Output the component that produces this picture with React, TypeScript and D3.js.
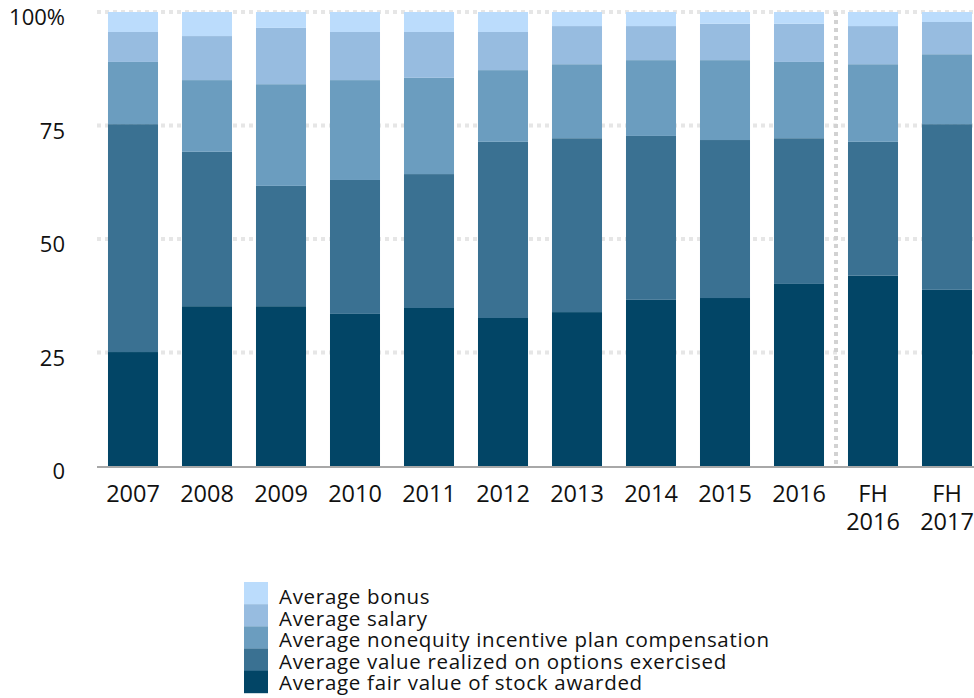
import React from "react";
import * as d3 from "d3";

const categories = ["2007","2008","2009","2010","2011","2012","2013","2014","2015","2016","FH 2016","FH 2017"];
const stockAwarded = [25.1, 35.2, 35.2, 33.5, 34.8, 32.6, 33.9, 36.6, 37.0, 40.1, 41.9, 38.8];
const optionsExercised = [50.2, 34.0, 26.5, 29.5, 29.5, 38.8, 38.3, 36.1, 34.8, 32.1, 29.5, 36.5];
const nonequityIncentive = [13.7, 15.8, 22.4, 22.0, 21.2, 15.8, 16.3, 16.7, 17.6, 16.8, 17.1, 15.4];
const salary = [6.6, 9.7, 12.4, 10.6, 10.1, 8.4, 8.4, 7.5, 8.0, 8.4, 8.4, 7.1];
const bonus = [4.4, 5.3, 3.5, 4.4, 4.4, 4.4, 3.1, 3.1, 2.6, 2.6, 3.1, 2.2];
const yTicks = [0, 25, 50, 75, 100];
const seriesNames = [
  "Average fair value of stock awarded",
  "Average value realized on options exercised",
  "Average nonequity incentive plan compensation",
  "Average salary",
  "Average bonus",
];
const seriesColors = ["#024566", "#3a7192", "#6b9dbf", "#97bce0", "#bbdcfc"];

const W = 974, H = 698;
const FONT = "'Open Sans', Lato, sans-serif";

export default function App() {
  const seriesVals = [stockAwarded, optionsExercised, nonequityIncentive, salary, bonus];
  const rows = categories.map((c, i) => {
    const total = seriesVals.reduce((s, a) => s + a[i], 0);
    const r: any = { cat: c };
    seriesVals.forEach((a, k) => { r["s" + k] = (a[i] / total) * 100; });
    return r;
  });
  const keys = seriesVals.map((_, k) => "s" + k);
  const stacked = d3.stack().keys(keys)(rows);

  const x = d3.scaleBand().domain(categories).range([96, 984]).paddingInner(0.324).paddingOuter(0.162);
  const y = d3.scaleLinear().domain([0, 100]).range([466, 12]);

  const dividerX = ((x("2016") as number) + x.bandwidth() + (x("FH 2016") as number)) / 2;

  return (
    <svg width={W} height={H} style={{ position: "absolute", left: 0, top: 0, background: "#fff" }} fontFamily={FONT}>
      {yTicks.filter(t => t > 0).map(t => (
        <line key={"g" + t} x1={97} x2={W} y1={y(t)} y2={y(t)} stroke="#e6e6e6" strokeWidth={4} strokeDasharray="4 4" />
      ))}
      {stacked.map((s, k) => (
        <g key={"s" + k} fill={seriesColors[k]}>
          {s.map((d: any, i: number) => (
            <rect key={i} x={x(d.data.cat)} width={x.bandwidth()} y={y(d[1])} height={y(d[0]) - y(d[1])} />
          ))}
        </g>
      ))}
      <line x1={dividerX} x2={dividerX} y1={12} y2={466} stroke="#d2d2d2" strokeWidth={4} strokeDasharray="4 4" />
      <line x1={97} x2={W} y1={467} y2={467} stroke="#a8a8a8" strokeWidth={2} />
      {yTicks.map(t => (
        <text key={"y" + t} x={65} y={y(t) + 13} textAnchor="end" fontSize={22} fill="#111">
          {t === 100 ? "100%" : String(t)}
        </text>
      ))}
      {categories.map(c => {
        const parts = c.split(" ");
        const cx = (x(c) as number) + x.bandwidth() / 2;
        return (
          <text key={"x" + c} x={cx} y={502} textAnchor="middle" fontSize={23.5} fill="#111">
            {parts.map((p, j) => (
              <tspan key={j} x={cx} dy={j === 0 ? 0 : 28}>{p}</tspan>
            ))}
          </text>
        );
      })}
      {seriesNames.slice().reverse().map((n, j) => {
        const k = seriesNames.length - 1 - j;
        const top = 582 + j * 22.2;
        return (
          <g key={"l" + k}>
            <rect x={244} y={top} width={24} height={22.4} fill={seriesColors[k]} />
            <text x={279} y={604 + j * 21.5} fontSize={20.5} letterSpacing={0.7} fill="#111">{n}</text>
          </g>
        );
      })}
    </svg>
  );
}
